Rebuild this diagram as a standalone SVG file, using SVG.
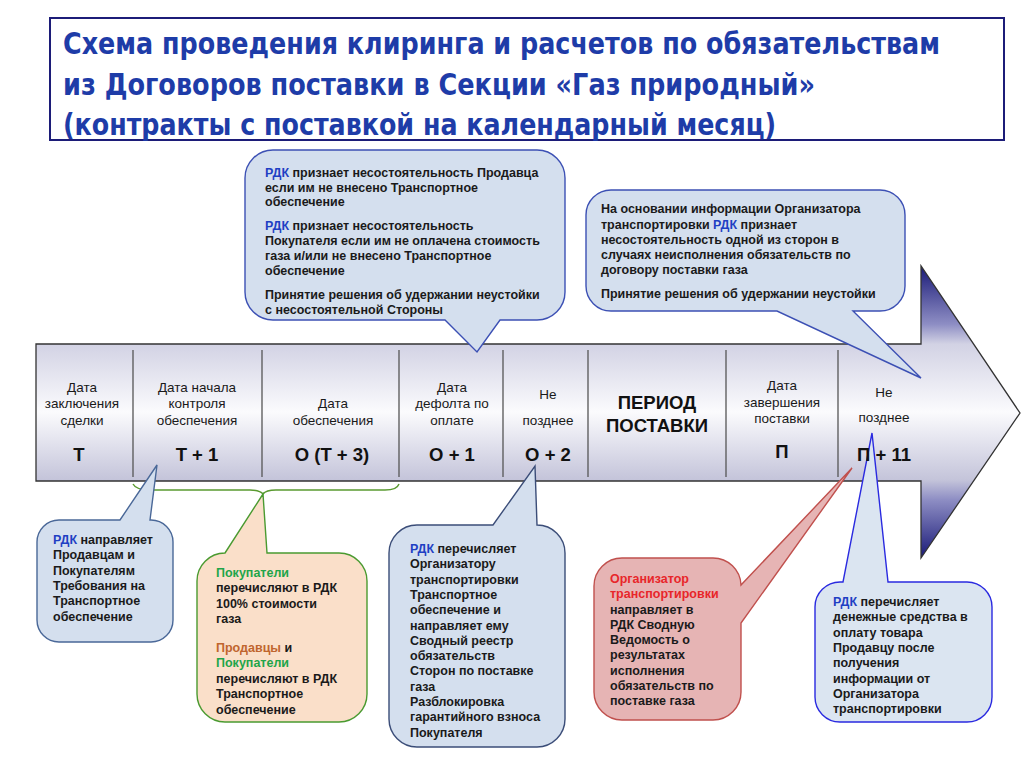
<svg xmlns="http://www.w3.org/2000/svg" width="1024" height="768" viewBox="0 0 1024 768">
<defs>
<linearGradient id="arrowGrad" gradientUnits="userSpaceOnUse" x1="0" y1="266" x2="0" y2="558">
<stop offset="0" stop-color="#1a1a78"/>
<stop offset="0.2" stop-color="#8e8ec4"/>
<stop offset="0.267" stop-color="#d2d2e4"/>
<stop offset="0.5" stop-color="#fbfbfd"/>
<stop offset="0.733" stop-color="#c4c4da"/>
<stop offset="0.8" stop-color="#8e8ec4"/>
<stop offset="1" stop-color="#1a1a78"/>
</linearGradient>
<style>
.title{font-family:"Liberation Sans Narrow","DejaVu Sans Condensed","Liberation Sans",sans-serif;font-weight:bold;font-size:30px;fill:#1e3ca8;}
.lbl{font-family:"Liberation Sans",Arial,sans-serif;font-size:13.5px;fill:#1a1a1a;text-anchor:middle;}
.val{font-family:"Liberation Sans",Arial,sans-serif;font-size:18.5px;font-weight:bold;fill:#111;text-anchor:middle;}
.ct{font-family:"Liberation Sans",Arial,sans-serif;font-size:12.5px;font-weight:bold;fill:#1a1a1a;}
.rdk{fill:#1f3fc4;}
.grn{fill:#1fa54a;}
.brn{fill:#c0652e;}
.red{fill:#e8262a;}
.div{stroke:#555;stroke-width:1.3;}
.cb{fill:#d4dfee;stroke-width:1.4;}
</style>
</defs>
<rect width="1024" height="768" fill="#fff"/>

<g id="title">
<rect x="50" y="18" width="954" height="122" fill="#fff" stroke="#1c1c78" stroke-width="2"/>
<text class="title" x="63" y="54" textLength="877" lengthAdjust="spacingAndGlyphs">Схема проведения клиринга и расчетов по обязательствам</text>
<text class="title" x="63" y="95" textLength="752" lengthAdjust="spacingAndGlyphs">из Договоров поставки в Секции «Газ природный»</text>
<text class="title" x="63" y="135" textLength="713" lengthAdjust="spacingAndGlyphs">(контракты с поставкой на календарный месяц)</text>
</g>

<g id="timeline-arrow">
<polygon points="36,344 921,344 921,266 1020,413 921,558 921,481 36,481" fill="url(#arrowGrad)" stroke="#333" stroke-width="1.3"/>
<line class="div" x1="133" y1="350" x2="133" y2="477"/>
<line class="div" x1="262" y1="350" x2="262" y2="477"/>
<line class="div" x1="399" y1="350" x2="399" y2="477"/>
<line class="div" x1="503" y1="350" x2="503" y2="477"/>
<line class="div" x1="588" y1="350" x2="588" y2="477"/>
<line class="div" x1="726" y1="350" x2="726" y2="477"/>
<line class="div" x1="838" y1="350" x2="838" y2="477"/>
</g>

<g id="connectors">
<path d="M133,484 Q136,490 150,490 H250 Q260,490 263,494 Q266,490 276,490 H385 Q397,490 399,484" fill="none" stroke="#5a9a30" stroke-width="1.4"/>
</g>

<g id="callout-top1">
<path class="cb" stroke="#3c50b4" d="M273,150 H537 A28,28 0 0 1 565,178 V292 A28,28 0 0 1 537,320 H500 L477,352 L445,320 H273 A28,28 0 0 1 245,292 V178 A28,28 0 0 1 273,150 Z"/>
<text class="ct" x="265" y="177"><tspan class="rdk">РДК</tspan> признает несостоятельность Продавца</text>
<text class="ct" x="265" y="191.5">если им не внесено Транспортное</text>
<text class="ct" x="265" y="206">обеспечение</text>
<text class="ct" x="265" y="230"><tspan class="rdk">РДК</tspan> признает несостоятельность</text>
<text class="ct" x="265" y="245">Покупателя если им не оплачена стоимость</text>
<text class="ct" x="265" y="260">газа и/или не внесено Транспортное</text>
<text class="ct" x="265" y="274.5">обеспечение</text>
<text class="ct" x="265" y="299">Принятие решения об удержании неустойки</text>
<text class="ct" x="265" y="314">с несостоятельной Стороны</text>
</g>

<g id="callout-top2">
<path class="cb" stroke="#3c50b4" d="M611,190 H880 A25,25 0 0 1 905,215 V286 A25,25 0 0 1 880,311 H853 L921,378 L777,311 H611 A25,25 0 0 1 586,286 V215 A25,25 0 0 1 611,190 Z"/>
<text class="ct" x="601" y="213">На основании информации Организатора</text>
<text class="ct" x="601" y="228.5">транспортировки <tspan class="rdk">РДК</tspan> признает</text>
<text class="ct" x="601" y="244">несостоятельность одной из сторон в</text>
<text class="ct" x="601" y="259">случаях неисполнения обязательств по</text>
<text class="ct" x="601" y="274">договору поставки газа</text>
<text class="ct" x="601" y="298">Принятие решения об удержании неустойки</text>
</g>

<g id="callout-b1">
<path class="cb" stroke="#4a6898" d="M59,520 H120 L157,465 L150,520 H151 A22,22 0 0 1 173,542 V620 A22,22 0 0 1 151,642 H59 A22,22 0 0 1 37,620 V542 A22,22 0 0 1 59,520 Z"/>
<text class="ct" x="53" y="544"><tspan class="rdk">РДК</tspan> направляет</text>
<text class="ct" x="53" y="559.3">Продавцам и</text>
<text class="ct" x="53" y="574.6">Покупателям</text>
<text class="ct" x="53" y="590">Требования на</text>
<text class="ct" x="53" y="605.3">Транспортное</text>
<text class="ct" x="53" y="620.6">обеспечение</text>
</g>

<g id="callout-b2">
<path fill="#fadfc9" stroke="#4a9a30" stroke-width="1.4" d="M225,553 L263,494 L267,553 H339 A28,28 0 0 1 367,581 V694 A28,28 0 0 1 339,722 H225 A28,28 0 0 1 197,694 V581 A28,28 0 0 1 225,553 Z"/>
<text class="ct" x="216" y="577"><tspan class="grn">Покупатели</tspan></text>
<text class="ct" x="216" y="592">перечисляют в РДК</text>
<text class="ct" x="216" y="607.5">100% стоимости</text>
<text class="ct" x="216" y="623">газа</text>
<text class="ct" x="216" y="652"><tspan class="brn">Продавцы</tspan> и</text>
<text class="ct" x="216" y="667"><tspan class="grn">Покупатели</tspan></text>
<text class="ct" x="216" y="682.5">перечисляют в РДК</text>
<text class="ct" x="216" y="698">Транспортное</text>
<text class="ct" x="216" y="713.5">обеспечение</text>
</g>

<g id="callout-b3">
<path class="cb" stroke="#3b4d78" d="M417,525 H493 L535,466 L537,525 A28,28 0 0 1 565,553 V719 A28,28 0 0 1 537,747 H417 A28,28 0 0 1 389,719 V553 A28,28 0 0 1 417,525 Z"/>
<text class="ct" x="410" y="553"><tspan class="rdk">РДК</tspan> перечисляет</text>
<text class="ct" x="410" y="568.3">Организатору</text>
<text class="ct" x="410" y="583.6">транспортировки</text>
<text class="ct" x="410" y="599">Транспортное</text>
<text class="ct" x="410" y="614.2">обеспечение и</text>
<text class="ct" x="410" y="629.5">направляет ему</text>
<text class="ct" x="410" y="644.8">Сводный реестр</text>
<text class="ct" x="410" y="660">обязательств</text>
<text class="ct" x="410" y="675.4">Сторон по поставке</text>
<text class="ct" x="410" y="690.7">газа</text>
<text class="ct" x="410" y="706">Разблокировка</text>
<text class="ct" x="410" y="721.3">гарантийного взноса</text>
<text class="ct" x="410" y="736.6">Покупателя</text>
</g>

<g id="callout-b4">
<path fill="#e6b4b4" stroke="#c0504d" stroke-width="1.4" d="M622,558 H713 A28,28 0 0 1 741,585 L852,468 L741,623 V692 A28,28 0 0 1 713,720 H622 A28,28 0 0 1 594,692 V586 A28,28 0 0 1 622,558 Z"/>
<text class="ct" x="610" y="583"><tspan class="red">Организатор</tspan></text>
<text class="ct" x="610" y="598"><tspan class="red">транспортировки</tspan></text>
<text class="ct" x="610" y="613.5">направляет в</text>
<text class="ct" x="610" y="628.5">РДК Сводную</text>
<text class="ct" x="610" y="644">Ведомость о</text>
<text class="ct" x="610" y="659">результатах</text>
<text class="ct" x="610" y="674.5">исполнения</text>
<text class="ct" x="610" y="690">обязательств по</text>
<text class="ct" x="610" y="705">поставке газа</text>
</g>

<g id="callout-b5">
<path fill="#dbe5f1" stroke="#2a2ae0" stroke-width="1.4" d="M840,582 H843 L872,433 L888,582 H967 A25,25 0 0 1 992,607 V697 A25,25 0 0 1 967,722 H840 A25,25 0 0 1 815,697 V607 A25,25 0 0 1 840,582 Z"/>
<text class="ct" x="833" y="606"><tspan class="rdk">РДК</tspan> перечисляет</text>
<text class="ct" x="833" y="621">денежные средства в</text>
<text class="ct" x="833" y="636.5">оплату товара</text>
<text class="ct" x="833" y="652">Продавцу после</text>
<text class="ct" x="833" y="667">получения</text>
<text class="ct" x="833" y="682.5">информации от</text>
<text class="ct" x="833" y="698">Организатора</text>
<text class="ct" x="833" y="713">транспортировки</text>
</g>

<g id="col-T">
<text class="lbl" x="82" y="392">Дата</text>
<text class="lbl" x="82" y="408">заключения</text>
<text class="lbl" x="82" y="425">сделки</text>
<text class="val" x="79" y="461">Т</text>
</g>
<g id="col-T1">
<text class="lbl" x="197" y="392">Дата начала</text>
<text class="lbl" x="197" y="408">контроля</text>
<text class="lbl" x="197" y="425">обеспечения</text>
<text class="val" x="197" y="461">Т + 1</text>
</g>
<g id="col-O">
<text class="lbl" x="333" y="408">Дата</text>
<text class="lbl" x="333" y="425">обеспечения</text>
<text class="val" x="332" y="461">О (Т + 3)</text>
</g>
<g id="col-O1">
<text class="lbl" x="452" y="392">Дата</text>
<text class="lbl" x="452" y="408">дефолта по</text>
<text class="lbl" x="452" y="425">оплате</text>
<text class="val" x="452" y="461">О + 1</text>
</g>
<g id="col-O2">
<text class="lbl" x="548" y="399">Не</text>
<text class="lbl" x="548" y="425">позднее</text>
<text class="val" x="548" y="461">О + 2</text>
</g>
<g id="col-period">
<text class="val" x="657" y="409">ПЕРИОД</text>
<text class="val" x="657" y="432">ПОСТАВКИ</text>
</g>
<g id="col-P">
<text class="lbl" x="782" y="390">Дата</text>
<text class="lbl" x="782" y="407">завершения</text>
<text class="lbl" x="782" y="423">поставки</text>
<text class="val" x="782" y="458">П</text>
</g>
<g id="col-P11">
<text class="lbl" x="884" y="397">Не</text>
<text class="lbl" x="884" y="422">позднее</text>
<text class="val" x="884" y="461">П + 11</text>
</g>
</svg>
